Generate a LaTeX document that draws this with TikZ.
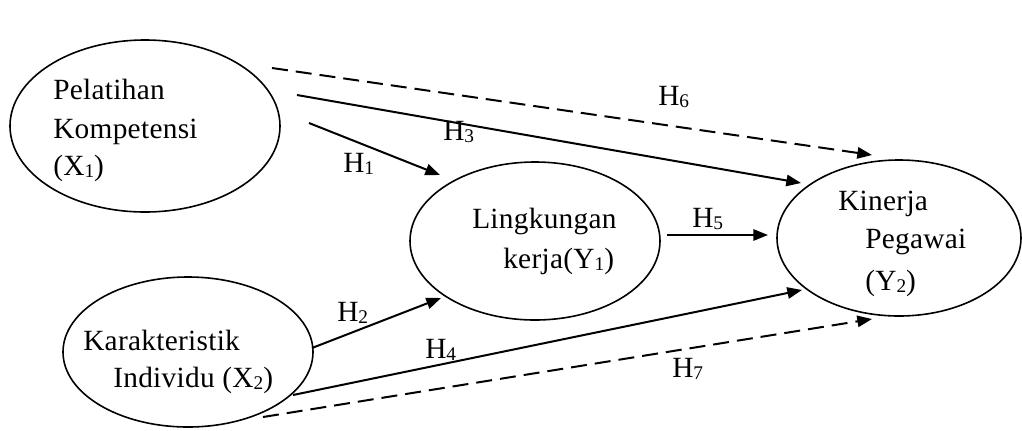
\documentclass[tikz,border=0pt]{standalone}
\usepackage{fontspec}
\setmainfont{Liberation Serif}[LetterSpace=1]
\usetikzlibrary{shapes.geometric,arrows.meta}
\newcommand{\sbs}[1]{\raisebox{-0.2ex}{\fontsize{14.5}{14.5}\selectfont #1}}
\begin{document}
\begin{tikzpicture}[x=0.75pt,y=-0.75pt,
  var/.style={draw, ellipse, line width=1.2pt, inner sep=0pt, outer sep=0pt},
  txt/.style={anchor=base west, inner sep=0pt, font=\fontsize{22}{22}\selectfont},
  arr/.style={line width=1.5pt, -{Triangle[length=11pt,width=8.5pt]}},
  darr/.style={arr, dash pattern=on 12pt off 6pt}]
\useasboundingbox (0,0) rectangle (1022,430);
% ellipses
\node[var, minimum width=202.5pt, minimum height=129pt] (X1) at (145,126) {};
\node[var, minimum width=187.5pt, minimum height=112.5pt] (X2) at (188,352) {};
\node[var, minimum width=187.5pt, minimum height=118.5pt] (Y1) at (535,241) {};
\node[var, minimum width=183pt, minimum height=117pt] (Y2) at (899,238) {};
% texts
\node[txt] (x1a) at (53,99) {Pelatihan};
\node[txt] (x1b) at (53,138) {Kompetensi};
\node[txt] (x1c) at (53,175) {(X\sbs{1})};
\node[txt] (x2a) at (83,350) {Karakteristik};
\node[txt] (x2b) at (113,387) {Individu (X\sbs{2})};
\node[txt] (y1a) at (472,228) {Lingkungan};
\node[txt] (y1b) at (503,268) {kerja(Y\sbs{1})};
\node[txt] (y2a) at (838,210) {Kinerja};
\node[txt] (y2b) at (865,248) {Pegawai};
\node[txt] (y2c) at (865,290) {(Y\sbs{2})};
% connector end points
\coordinate (h6s) at (272,68);  \coordinate (h6e) at (872,155);
\coordinate (h3s) at (297,95);  \coordinate (h3e) at (801,183);
\coordinate (h1s) at (309,123); \coordinate (h1e) at (440,175);
\coordinate (h2s) at (312,348); \coordinate (h2e) at (441,298);
\coordinate (h4s) at (293,395); \coordinate (h4e) at (802,290);
\coordinate (h7s) at (263,417); \coordinate (h7e) at (872,319);
\coordinate (h5s) at (667,235); \coordinate (h5e) at (768,235);
\draw[darr] (h6s) -- (h6e);
\draw[arr] (h3s) -- (h3e);
\draw[arr] (h1s) -- (h1e);
\draw[arr] (h2s) -- (h2e);
\draw[arr] (h4s) -- (h4e);
\draw[darr] (h7s) -- (h7e);
\draw[arr] (h5s) -- (h5e);
% labels
\node[txt] (L6) at (658,105) {H\sbs{6}};
\node[txt] (L3) at (443,140) {H\sbs{3}};
\node[txt] (L1) at (343,172) {H\sbs{1}};
\node[txt] (L5) at (692,227) {H\sbs{5}};
\node[txt] (L2) at (337,321) {H\sbs{2}};
\node[txt] (L4) at (425,358) {H\sbs{4}};
\node[txt] (L7) at (672,377) {H\sbs{7}};
\end{tikzpicture}
\end{document}
